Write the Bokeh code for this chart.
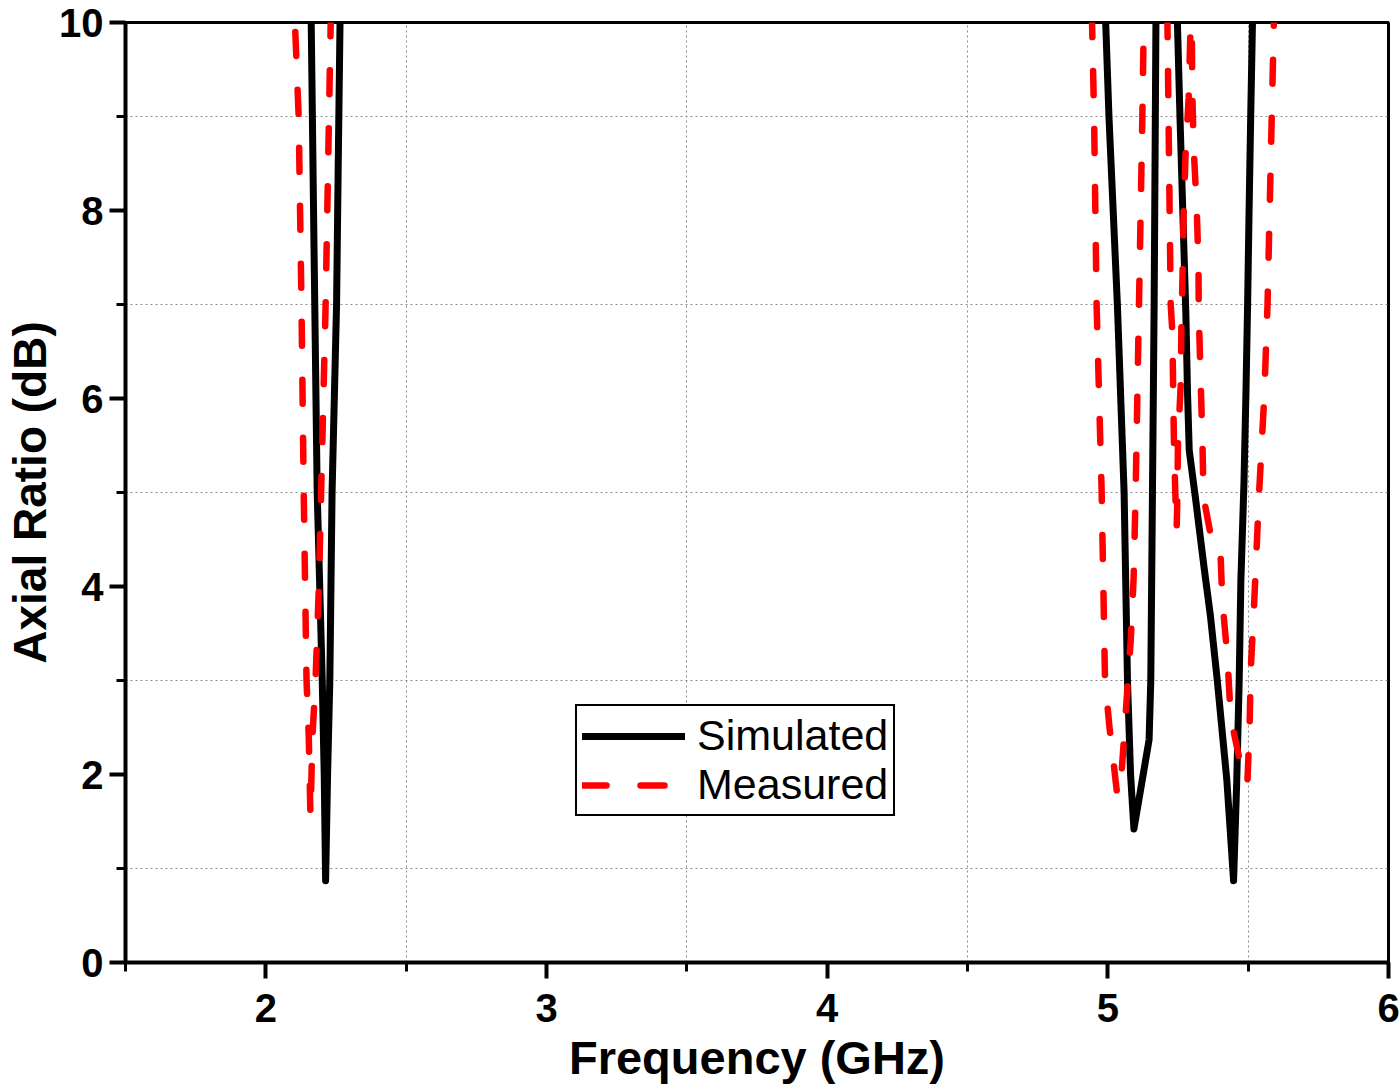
import numpy as np
from bokeh.plotting import figure
from bokeh.models import Range1d, FixedTicker, Legend, LegendItem
from bokeh.embed import file_html
from bokeh.resources import INLINE

nan = np.nan

# Simulated axial ratio (GHz, dB); NaN separates the visible dips (values above 10 dB are off-chart)
sim_freq = [2.160, 2.170, 2.183, 2.192, 2.201, 2.208, 2.213, 2.220, 2.228, 2.236, 2.252, 2.258, 2.266, nan,
            4.990, 5.004, 5.034, 5.058, 5.070, 5.081, 5.093, 5.147, 5.153, 5.159, 5.165, 5.172, nan,
            5.247, 5.257, 5.278, 5.284, 5.290, 5.314, 5.343, 5.365, 5.390, 5.424, 5.448,
            5.459, 5.468, 5.474, 5.485, 5.492, 5.498, 5.503, 5.509, 5.516]
sim_ar = [10.4, 8.0, 5.0, 4.0, 3.0, 2.0, 0.87, 2.0, 3.0, 5.0, 7.0, 8.5, 10.4, nan,
          10.2, 9.0, 7.0, 5.0, 3.0, 2.0, 1.42, 2.37, 3.0, 5.0, 7.0, 10.3, nan,
          10.1, 9.0, 6.9, 6.05, 5.45, 4.9, 4.2, 3.7, 3.0, 1.94, 0.87,
          1.9, 3.0, 4.06, 5.1, 6.05, 7.0, 7.95, 9.0, 10.1]

# Measured axial ratio (GHz, dB)
meas_freq = [2.105, 2.117, 2.127, 2.135, 2.145, 2.153, 2.159, 2.166, 2.177, 2.189, 2.197, 2.213, 2.225, 2.233, nan,
             4.943, 4.951, 4.960, 4.978, 4.990, 5.006, 5.034, 5.047, 5.057, 5.082, 5.092, 5.099, 5.111, 5.123, 5.129, nan,
             5.212, 5.224, 5.230, 5.233, 5.236, 5.242, 5.245, 5.247, 5.250, 5.260, 5.262, 5.266, 5.270, 5.277,
             5.288, 5.295, 5.298, 5.301, 5.306, 5.317, 5.323, 5.324, 5.331, 5.337, 5.341, 5.367, 5.390, 5.402,
             5.408, 5.426, 5.438, 5.470, 5.497, 5.505, 5.509, 5.521, 5.539, 5.557, 5.569, 5.584, 5.593]
meas_ar = [9.9, 9.0, 7.0, 5.0, 3.0, 2.4, 1.55, 2.4, 3.0, 4.0, 5.0, 7.0, 9.0, 10.3, nan,
           10.1, 9.0, 7.0, 5.0, 3.0, 2.5, 1.77, 1.94, 2.36, 3.45, 4.1, 5.0, 7.0, 9.0, 10.2, nan,
           10.1, 7.0, 6.7, 6.05, 5.45, 4.84, 4.6, 4.84, 5.55, 6.16, 6.75, 7.3, 7.95, 8.6,
           9.2, 10.0, 10.3, 9.25, 8.66, 8.0, 7.4, 6.9, 6.16, 5.55, 4.95, 4.54, 4.52, 4.31,
           3.85, 3.25, 2.6, 2.15, 1.9, 2.5, 3.1, 3.8, 5.0, 6.0, 7.0, 9.0, 10.2]

x_major = [2, 3, 4, 5, 6]
x_minor = [1.5, 2.5, 3.5, 4.5, 5.5]
y_major = [0, 2, 4, 6, 8, 10]
y_minor = [1, 3, 5, 7, 9]

FONT = "Liberation Sans"

p = figure(width=1400, height=1089, output_backend="svg", toolbar_location=None,
           x_range=Range1d(1.5, 6), y_range=Range1d(0, 10),
           min_border_left=125, min_border_right=12, min_border_top=22, min_border_bottom=127)

p.background_fill_color = "white"
p.border_fill_color = "white"
p.outline_line_color = "black"
p.outline_line_width = 3

p.xaxis.ticker = FixedTicker(ticks=x_major, minor_ticks=x_minor)
p.yaxis.ticker = FixedTicker(ticks=y_major, minor_ticks=y_minor)
p.xgrid.ticker = FixedTicker(ticks=x_minor[1:])
p.ygrid.ticker = FixedTicker(ticks=y_minor)
for g in (p.xgrid, p.ygrid):
    g.grid_line_color = "#8c8c8c"
    g.grid_line_dash = "2 3"
    g.grid_line_width = 1

for ax in (p.xaxis, p.yaxis):
    ax.axis_line_width = 4
    ax.axis_line_color = "black"
    ax.major_tick_line_width = 4
    ax.minor_tick_line_width = 3
    ax.major_tick_out = 16
    ax.major_tick_in = 0
    ax.minor_tick_out = 9
    ax.minor_tick_in = 0
    ax.major_label_text_font = FONT
    ax.major_label_text_font_style = "bold"
    ax.major_label_text_font_size = "40px"
    ax.major_label_text_color = "black"
    ax.axis_label_text_font = FONT
    ax.axis_label_text_font_style = "bold"
    ax.axis_label_text_color = "black"

p.xaxis.axis_label = "Frequency (GHz)"
p.yaxis.axis_label = "Axial Ratio (dB)"
p.xaxis.axis_label_text_font_size = "47px"
p.yaxis.axis_label_text_font_size = "46px"
p.xaxis.major_label_standoff = 15
p.yaxis.major_label_standoff = 6
p.xaxis.axis_label_standoff = 6
p.yaxis.axis_label_standoff = 0

r_sim = p.line(np.array(sim_freq), np.array(sim_ar), line_color="black", line_width=7, line_cap="round",
               line_join="round")
r_meas = p.line(np.array(meas_freq), np.array(meas_ar), line_color="red", line_width=6.5, line_cap="round",
                line_join="round", line_dash="24 34")

legend = Legend(items=[LegendItem(label="Simulated", renderers=[r_sim]),
                       LegendItem(label="Measured", renderers=[r_meas])],
                location=(450, 146))
legend.label_text_font = FONT
legend.label_text_font_size = "43px"
legend.label_text_color = "black"
legend.glyph_width = 103
legend.glyph_height = 40
legend.label_standoff = 12
legend.padding = 5
legend.spacing = 0
legend.margin = 0
legend.border_line_color = "black"
legend.border_line_alpha = 1.0
legend.border_line_width = 2
legend.background_fill_color = "white"
legend.background_fill_alpha = 1.0
p.add_layout(legend, "center")

open("out.html", "w").write(file_html(p, INLINE))
